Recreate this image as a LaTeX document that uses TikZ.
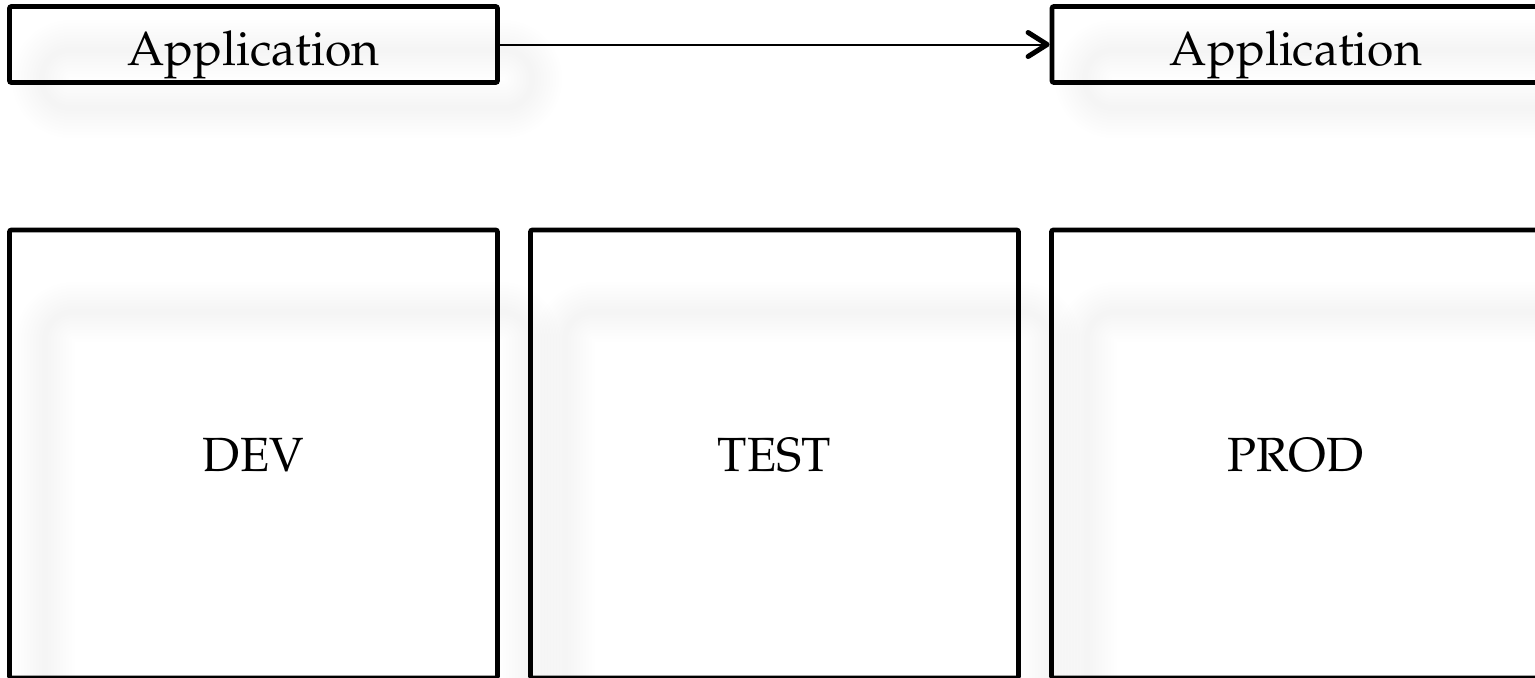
\documentclass[tikz,border=0pt]{standalone}
\usepackage[T1]{fontenc}
\usepackage{mathpazo}
\usetikzlibrary{arrows.meta}
\def\pu{0.5pt}
\newcommand\softshade[4]{%
  \foreach \i in {1,...,10}{%
    \draw[black, opacity=0.005, line width=\i*3pt, rounded corners=14pt, line join=round] (#1,#2) rectangle (#3,#4);
  }}
\tikzset{
  box/.style={draw=black, line width=2.4pt, rounded corners=1pt, inner sep=0pt, font=\fontsize{24}{29}\selectfont},
  appbox/.style={box, minimum width=488*\pu, minimum height=76*\pu, text height=20.5pt, text depth=0pt},
  envbox/.style={box, minimum width=488*\pu, minimum height=448*\pu, text height=17.5pt, text depth=0pt},
  conn/.style={draw=black, line width=1pt, -{Straight Barb[length=9.5pt,width=12pt,line width=2.5pt,round]}}
}
\begin{document}
\begin{tikzpicture}[x=0.5pt,y=-0.5pt]
\useasboundingbox (0,0) rectangle (1535,677);
\clip (0,0) rectangle (1535,677);
% shadows
\softshade{42}{50}{532}{108}
\softshade{1085}{50}{1575}{108}
\softshade{45}{312}{530}{770}
\softshade{565}{312}{1050}{770}
\softshade{1087}{312}{1575}{770}
% boxes
\node[appbox] (app1) at (253.5,44.5) {Application};
\node[appbox] (app2) at (1296,44.5) {Application};
\node[envbox] (dev) at (253.5,454) {DEV};
\node[envbox] (test) at (774.5,454) {TEST};
\node[envbox] (prod) at (1295.5,454) {PROD};
% connector
\draw[conn] (app1.east) -- (app2.west);
\end{tikzpicture}
\end{document}
